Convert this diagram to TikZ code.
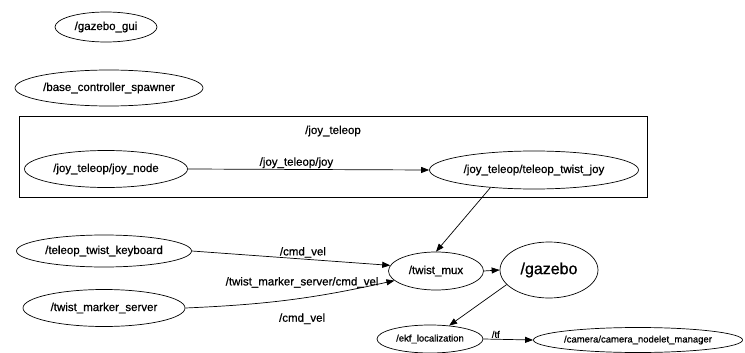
\documentclass[tikz,border=0pt]{standalone}
\usepackage{fontspec}
\setmainfont{Liberation Sans}[FakeBold=0.7]
\usetikzlibrary{shapes.geometric,arrows.meta,positioning}

\begin{document}
\begin{tikzpicture}[x=1pt,y=-1pt,
  rosnode/.style={draw,ellipse,inner sep=0pt,line width=0.7pt,font=\fontsize{11.5}{13}\selectfont},
  smallnode/.style={rosnode,font=\fontsize{9.5}{11}\selectfont},
  topic/.style={inner sep=1pt,font=\fontsize{11.5}{13}\selectfont},
  link/.style={-{Triangle[length=8pt,width=6pt]},line width=0.7pt}]
  \useasboundingbox (0,0) rectangle (745,353);

  % group box
  \draw[line width=0.7pt] (19,116) rectangle (647,197);
  \node[topic] (group) at (333,131) {/joy\_teleop};

  % nodes
  \node[rosnode,minimum width=102pt,minimum height=30pt] (gui) at (106,27) {/gazebo\_gui};
  \node[rosnode,minimum width=188pt,minimum height=36pt] (spawner) at (109,88) {/base\_controller\_spawner};
  \node[rosnode,minimum width=163pt,minimum height=37pt] (joynode) at (106,169) {/joy\_teleop/joy\_node};
  \node[rosnode,minimum width=209pt,minimum height=38pt] (twistjoy) at (534,170) {/joy\_teleop/teleop\_twist\_joy};
  \node[rosnode,minimum width=175pt,minimum height=32pt] (keyboard) at (104,251) {/teleop\_twist\_keyboard};
  \node[rosnode,minimum width=162pt,minimum height=37pt] (marker) at (104,308) {/twist\_marker\_server};
  \node[rosnode,minimum width=95pt,minimum height=38pt] (mux) at (436,271) {/twist\_mux};
  \node[rosnode,minimum width=98pt,minimum height=56pt,font=\fontsize{16}{18}\selectfont] (gazebo) at (549,270) {/gazebo};
  \node[smallnode,minimum width=106pt,minimum height=28pt] (ekf) at (430,339) {/ekf\_localization};
  \node[smallnode,minimum width=207pt,minimum height=25pt] (camera) at (638,340) {/camera/camera\_nodelet\_manager};

  % topics
  \draw[link] (joynode.east) -- node[topic,above,pos=0.45] (joytopic) {/joy\_teleop/joy} (twistjoy.west);
  \draw[link] (twistjoy.202) -- (mux.north);
  \draw[link] (keyboard.east) -- node[topic,above,pos=0.56] (keytopic) {/cmd\_vel} (mux.173);
  \draw[link] (marker.east) to[bend right=5]
    node[topic,above=9pt,pos=0.56] (markertopic) {/twist\_marker\_server/cmd\_vel}
    node[topic,below=14pt,pos=0.56] (cmdtopic) {/cmd\_vel} (mux.193);
  \draw[link] (mux.east) -- (gazebo.west);
  \draw[link] (gazebo.199) -- (ekf.35);
  \draw[link] (ekf.east) -- node[topic,above,pos=0.25,font=\fontsize{9.5}{11}\selectfont] (tftopic) {/tf} (camera.west);
\end{tikzpicture}
\end{document}
